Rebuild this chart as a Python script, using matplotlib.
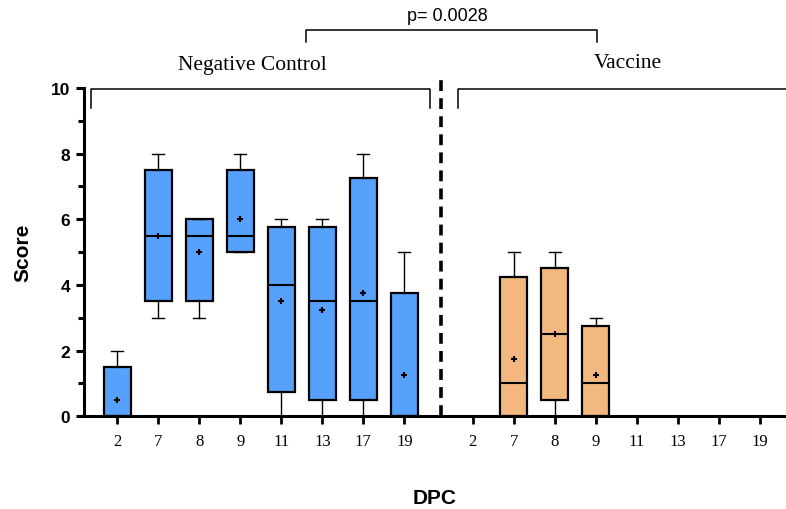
import matplotlib
matplotlib.use("Agg")
import matplotlib.pyplot as plt

# days post challenge
dpc = ["2", "7", "8", "9", "11", "13", "17", "19"]

# negative control box stats
nc_q1 = [0, 3.5, 3.5, 5, 0.75, 0.5, 0.5, 0]
nc_med = [0, 5.5, 5.5, 5.5, 4, 3.5, 3.5, 0]
nc_q3 = [1.5, 7.5, 6, 7.5, 5.75, 5.75, 7.25, 3.75]
nc_lo = [0, 3, 3, 5, 0, 0, 0, 0]
nc_hi = [2, 8, 6, 8, 6, 6, 8, 5]
nc_mean = [0.5, 5.5, 5, 6, 3.5, 3.25, 3.75, 1.25]

# vaccine box stats
vac_q1 = [0, 0, 0.5, 0, 0, 0, 0, 0]
vac_med = [0, 1, 2.5, 1, 0, 0, 0, 0]
vac_q3 = [0, 4.25, 4.5, 2.75, 0, 0, 0, 0]
vac_lo = [0, 0, 0, 0, 0, 0, 0, 0]
vac_hi = [0, 5, 5, 3, 0, 0, 0, 0]
vac_mean = [0, 1.75, 2.5, 1.25, 0, 0, 0, 0]

blue = "#55a1fb"
orange = "#f2b87f"

def make_stats(q1, med, q3, lo, hi, mean):
    out = []
    for i in range(len(q1)):
        out.append(dict(q1=q1[i], med=med[i], q3=q3[i], whislo=lo[i],
                        whishi=hi[i], mean=mean[i], fliers=[]))
    return out

fig = plt.figure(figsize=(7.86, 5.10), dpi=100)
ax = fig.add_axes([0.107, 0.182, 0.893, 0.6435])

nc_pos = list(range(len(dpc)))
vac_pos = [p + 8.67 for p in nc_pos]

def draw(stats, pos, color):
    # days where every score is 0 leave nothing visible
    keep = [i for i in range(len(stats)) if stats[i]["whishi"] > 0]
    ax.bxp([stats[i] for i in keep], positions=[pos[i] for i in keep],
           widths=0.66, capwidths=0.3, showmeans=True, patch_artist=True,
           boxprops=dict(facecolor=color, edgecolor="black", linewidth=1.6),
           medianprops=dict(color="black", linewidth=1.5),
           whiskerprops=dict(color="black", linewidth=1.0),
           capprops=dict(color="black", linewidth=1.0),
           meanprops=dict(marker="+", markeredgecolor="black",
                          markersize=5, markeredgewidth=1.5),
           manage_ticks=False, zorder=2)

draw(make_stats(nc_q1, nc_med, nc_q3, nc_lo, nc_hi, nc_mean), nc_pos, blue)
draw(make_stats(vac_q1, vac_med, vac_q3, vac_lo, vac_hi, vac_mean), vac_pos, orange)

ax.set_xlim(-0.81, 16.31)
ax.set_ylim(0, 10)
ax.set_xticks(nc_pos + vac_pos)
ax.set_xticklabels(dpc + dpc, family="Liberation Serif", fontsize=12)
ax.set_yticks([0, 2, 4, 6, 8, 10])
ax.set_yticks([1, 3, 5, 7, 9], minor=True)
for lab in ax.get_yticklabels():
    lab.set_fontweight("bold")
    lab.set_family("Liberation Sans")
    lab.set_fontsize(12.5)

for s in ["top", "right"]:
    ax.spines[s].set_visible(False)
for s in ["left", "bottom"]:
    ax.spines[s].set_linewidth(2.2)
    ax.spines[s].set_zorder(5)
ax.tick_params(axis="y", which="major", length=6, width=2.2, pad=4)
ax.tick_params(axis="y", which="minor", length=4, width=2.2)
ax.tick_params(axis="x", length=6, width=2.0, pad=6)

ax.set_ylabel("Score", family="Liberation Sans", fontweight="bold",
              fontsize=15, labelpad=13)
ax.set_xlabel("DPC", family="Liberation Sans", fontweight="bold",
              fontsize=15, labelpad=28)

# group separator
ax.plot([7.89, 7.89], [0, 10.43], color="black", lw=2.6,
        ls=(0, (3, 2)), clip_on=False)

# group brackets
ax.plot([-0.64, -0.64, 7.62, 7.62], [9.4, 9.98, 9.98, 9.4],
        color="black", lw=1.1, clip_on=False)
ax.plot([8.31, 8.31, 16.5], [9.4, 9.98, 9.98],
        color="black", lw=1.1, clip_on=False)
ax.text(3.3, 10.42, "Negative Control", family="Liberation Serif",
        fontsize=15.5, ha="center", va="bottom")
ax.text(12.45, 10.48, "Vaccine", family="Liberation Serif",
        fontsize=15.5, ha="center", va="bottom")

# comparison bracket
ax.plot([4.6, 4.6, 11.7, 11.7], [11.4, 11.77, 11.77, 11.4],
        color="black", lw=1.1, clip_on=False)
ax.text(8.04, 11.95, "p= 0.0028", family="Liberation Sans",
        fontsize=13, ha="center", va="bottom")

fig.savefig("out.png", dpi=100)
